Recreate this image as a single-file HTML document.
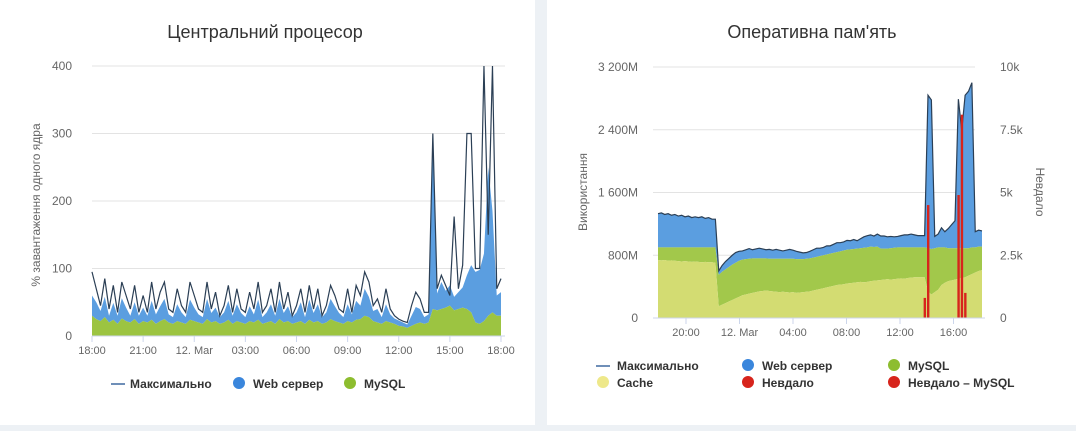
<!DOCTYPE html>
<html><head><meta charset="utf-8">
<style>
body{margin:0;width:1076px;height:431px;background:#edf1f5;font-family:"Liberation Sans","DejaVu Sans",sans-serif;overflow:hidden;position:relative}
.panel{position:absolute;top:0;background:#fff;height:425px}
svg{position:absolute;left:0;top:0}
text{font-family:"Liberation Sans","DejaVu Sans",sans-serif}
</style></head><body>
<div class="panel" style="left:0;width:535px"></div>
<div class="panel" style="left:547px;width:529px"></div>
<svg id="svg" width="1076" height="431"></svg>
<script>
// ---- CPU chart data (15-min steps, 18:00 -> 18:00) ----
const cpuTicks=["18:00","21:00","12. Mar","03:00","06:00","09:00","12:00","15:00","18:00"];
const cpuYTicks=[0,100,200,300,400];
const cpuMysql=[30,25,22,28,20,24,18,26,22,20,25,18,22,20,24,18,22,25,20,18,22,20,18,24,
22,20,18,25,20,22,18,20,24,18,22,20,18,22,20,24,18,20,22,18,25,20,22,18,
20,22,18,24,20,22,18,20,25,22,20,18,22,20,24,25,30,28,22,20,18,22,20,18,
15,14,12,15,18,20,18,20,40,38,40,42,45,38,40,42,40,35,20,18,22,30,35,30,30];
const cpuWeb=[30,25,15,30,10,25,12,30,20,10,25,12,20,10,28,14,22,30,12,10,25,15,10,30,
20,12,10,30,14,20,10,15,28,12,25,14,10,22,12,30,10,15,25,12,30,14,22,10,
15,28,10,30,14,25,10,15,30,22,14,10,25,12,28,20,40,30,15,20,10,25,12,8,
8,6,5,15,25,20,10,12,250,25,40,25,30,20,25,30,50,70,75,80,100,220,150,30,35];
const cpuMax=[95,70,45,85,40,75,35,80,60,40,75,35,60,35,80,40,65,80,40,35,70,45,35,80,
60,40,35,80,40,65,30,45,75,35,70,40,35,65,40,80,35,45,70,35,80,40,65,30,
45,70,35,75,40,70,30,45,75,60,40,35,70,35,75,60,95,80,45,55,35,70,40,30,
25,22,20,45,65,55,35,35,300,70,90,75,60,177,70,105,300,300,100,100,400,150,400,70,85];
// ---- Memory chart data (MB, 15-min steps) ----
const memTicks=["20:00","12. Mar","04:00","08:00","12:00","16:00"];
const memYTicks=["0","800M","1 600M","2 400M","3 200M"];
const memRTicks=["0","2.5k","5k","7.5k","10k"];
const memCache=[740,735,740,730,735,730,725,720,725,720,715,720,715,710,715,710,710,705,
150,170,190,210,230,250,270,290,300,310,320,330,340,345,350,345,
340,335,330,335,330,325,330,320,325,330,335,340,350,360,370,380,
390,400,410,420,425,430,440,445,450,455,460,455,460,470,475,480,
485,490,495,490,495,500,505,500,510,515,520,520,520,520,340,300,
330,360,420,450,470,480,490,500,510,520,540,560,580,600,610];
const memMysql=[160,165,160,170,165,170,175,180,175,180,185,180,185,190,185,190,190,195,
400,420,430,440,450,455,460,455,450,445,440,430,420,415,410,410,
415,420,425,420,425,430,425,430,425,420,420,420,420,420,420,420,
420,420,420,420,425,430,430,430,430,430,430,440,440,440,430,430,
400,395,390,400,400,400,395,400,390,385,380,380,380,380,550,580,
560,540,480,450,420,410,400,390,380,370,350,340,320,310,300];
const memWeb=[430,440,420,430,410,420,400,410,390,400,380,390,380,390,370,380,360,360,
50,80,100,110,120,130,120,110,120,130,110,120,130,120,110,120,
110,120,110,100,110,120,110,100,90,80,80,90,100,110,100,100,
110,100,110,120,110,110,120,110,120,100,120,140,150,150,140,160,
160,160,150,150,140,140,150,160,160,170,160,150,150,150,1950,1900,
150,170,250,200,250,300,350,1900,1500,1950,2000,2100,200,210,200];
const memFail=[0,0,0,0,0,0,0,0,0,0,0,0,0,0,0,0,0,0,0,0,0,0,0,0,0,0,0,0,0,0,0,0,0,0,0,0,0,0,0,0,0,0,0,0,0,0,0,0,
0,0,0,0,0,0,0,0,0,0,0,0,0,0,0,0,0,0,0,0,0,0,0,0,0,0,0,0,0,0,0,800,4500,0,0,0,0,0,0,0,0,4900,8100,1000,0,0,0,0,0];

const S=document.getElementById('svg');const NS='http://www.w3.org/2000/svg';
function mk(t,a,p){const e=document.createElementNS(NS,t);for(const k in a)e.setAttribute(k,a[k]);(p||S).appendChild(e);return e;}
function txt(x,y,s,a){const e=mk('text',Object.assign({x:x,y:y,'font-size':12,fill:'#666'},a||{}));e.textContent=s;return e;}
function poly(xs,lo,hi){let d='M'+xs.map((x,i)=>x+','+hi[i]).join('L');for(let i=xs.length-1;i>=0;i--)d+='L'+xs[i]+','+lo[i];return d+'Z';}

// ===== CPU =====
(function(){
const x0=92,x1=501,yb=336,yt=66,n=cpuMysql.length;
const X=i=>x0+(x1-x0)*i/(n-1), Y=v=>yb-(yb-yt)*v/400;
const t=txt(265,38,'Центральний процесор',{'font-size':18,fill:'#333','text-anchor':'middle'});

cpuYTicks.forEach(v=>{const g=mk('line',{x1:x0,x2:505,y1:Y(v),y2:Y(v),stroke:'#e3e3e3'});

const l=txt(72,Y(v)+4,String(v),{'text-anchor':'end'});});
const yt2=txt(0,0,'% завантаження одного ядра',{transform:'translate(40,205) rotate(-90)','text-anchor':'middle','font-size':12});

const xs=cpuMysql.map((v,i)=>X(i));
const z=cpuMysql.map(()=>yb), m=cpuMysql.map(v=>Y(v)), w=cpuMysql.map((v,i)=>Y(v+cpuWeb[i]));
const a1=mk('path',{d:poly(xs,m,w),fill:'#5b9ee0'});
const a2=mk('path',{d:poly(xs,z,m),fill:'#9cc441'});
const ln=mk('polyline',{points:cpuMax.map((v,i)=>X(i)+','+Y(v)).join(' '),fill:'none',stroke:'#2b3f55','stroke-width':1.2});

mk('line',{x1:x0,x2:505,y1:yb,y2:yb,stroke:'#ccd6eb'});
cpuTicks.forEach((s,i)=>{const x=x0+(x1-x0)*i/8;mk('line',{x1:x,x2:x,y1:yb,y2:yb+6,stroke:'#ccd6eb'});
const l=txt(x,354,s,{'text-anchor':'middle','font-size':11});});
const lg=[[130,'Максимально','line','#6f8fb8'],[253,'Web сервер','dot','#3a86dc'],[364,'MySQL','dot','#8dbd2f']];
lg.forEach(([x,s,k,c])=>{const g=mk('g',{});
if(k=='line')mk('line',{x1:x-19,x2:x-5,y1:384,y2:384,stroke:c,'stroke-width':2},g);else mk('circle',{cx:x-14,cy:383,r:6,fill:c},g);
const t=txt(x,388,s,{'font-weight':'bold',fill:'#333','font-size':12});g.appendChild(t);});
})();

// ===== Memory =====
(function(){
const x0=658,x1=982,yb=318,yt=67,n=memCache.length;
const X=i=>x0+(x1-x0)*i/(n-1), Y=v=>yb-(yb-yt)*v/3200, YR=v=>yb-(yb-yt)*v/10000;
const t=txt(812,38,'Оперативна пам\'ять',{'font-size':18,fill:'#333','text-anchor':'middle'});

memYTicks.forEach((s,i)=>{const y=yb-(yb-yt)*i/4;const g=mk('line',{x1:653,x2:975,y1:y,y2:y,stroke:'#e3e3e3'});

const l=txt(638,y+4,s,{'text-anchor':'end'});
const r=txt(1000,y+4,memRTicks[i]);});
const a=txt(0,0,'Використання',{transform:'translate(587,192) rotate(-90)','text-anchor':'middle'});
const b=txt(0,0,'Невдало',{transform:'translate(1036,192) rotate(90)','text-anchor':'middle'});
const xs=memCache.map((v,i)=>X(i));
const z=xs.map(()=>yb),c=memCache.map(v=>Y(v)),m=memCache.map((v,i)=>Y(v+memMysql[i])),w=memCache.map((v,i)=>Y(v+memMysql[i]+memWeb[i]));
[[m,w,'#5b9ee0','memory-web-area'],[c,m,'#a2c84b','memory-mysql-area'],[z,c,'#d3dc72','memory-cache-area']].forEach(([lo,hi,f,nm])=>{
const p=mk('path',{d:poly(xs,lo,hi),fill:f});});
const ln=mk('polyline',{points:xs.map((x,i)=>x+','+w[i]).join(' '),fill:'none',stroke:'#2b3f55','stroke-width':1.2});

memFail.forEach((v,i)=>{if(!v)return;const r=mk('rect',{x:X(i)-1,y:YR(v),width:2.4,height:yb-YR(v),fill:'#d7241c'});
});
mk('line',{x1:653,x2:985,y1:yb,y2:yb,stroke:'#ccd6eb'});
memTicks.forEach((s,i)=>{const x=686+53.5*i;mk('line',{x1:x,x2:x,y1:yb,y2:yb+6,stroke:'#ccd6eb'});
const l=txt(x,336,s,{'text-anchor':'middle','font-size':11});});
const lg=[[617,366,'Максимально','line','#6f8fb8'],[762,366,'Web сервер','dot','#3a86dc'],[908,366,'MySQL','dot','#8dbd2f'],
[617,383,'Cache','dot','#eee88a'],[762,383,'Невдало','dot','#d7241c'],[908,383,'Невдало – MySQL','dot','#d7241c']];
lg.forEach(([x,y,s,k,col])=>{const g=mk('g',{});
if(k=='line')mk('line',{x1:x-21,x2:x-7,y1:y,y2:y,stroke:col,'stroke-width':2},g);else mk('circle',{cx:x-14,cy:y-1,r:6,fill:col},g);
g.appendChild(txt(x,y+4,s,{'font-weight':'bold',fill:'#333','font-size':12}));});
})();
</script>
</body></html>
